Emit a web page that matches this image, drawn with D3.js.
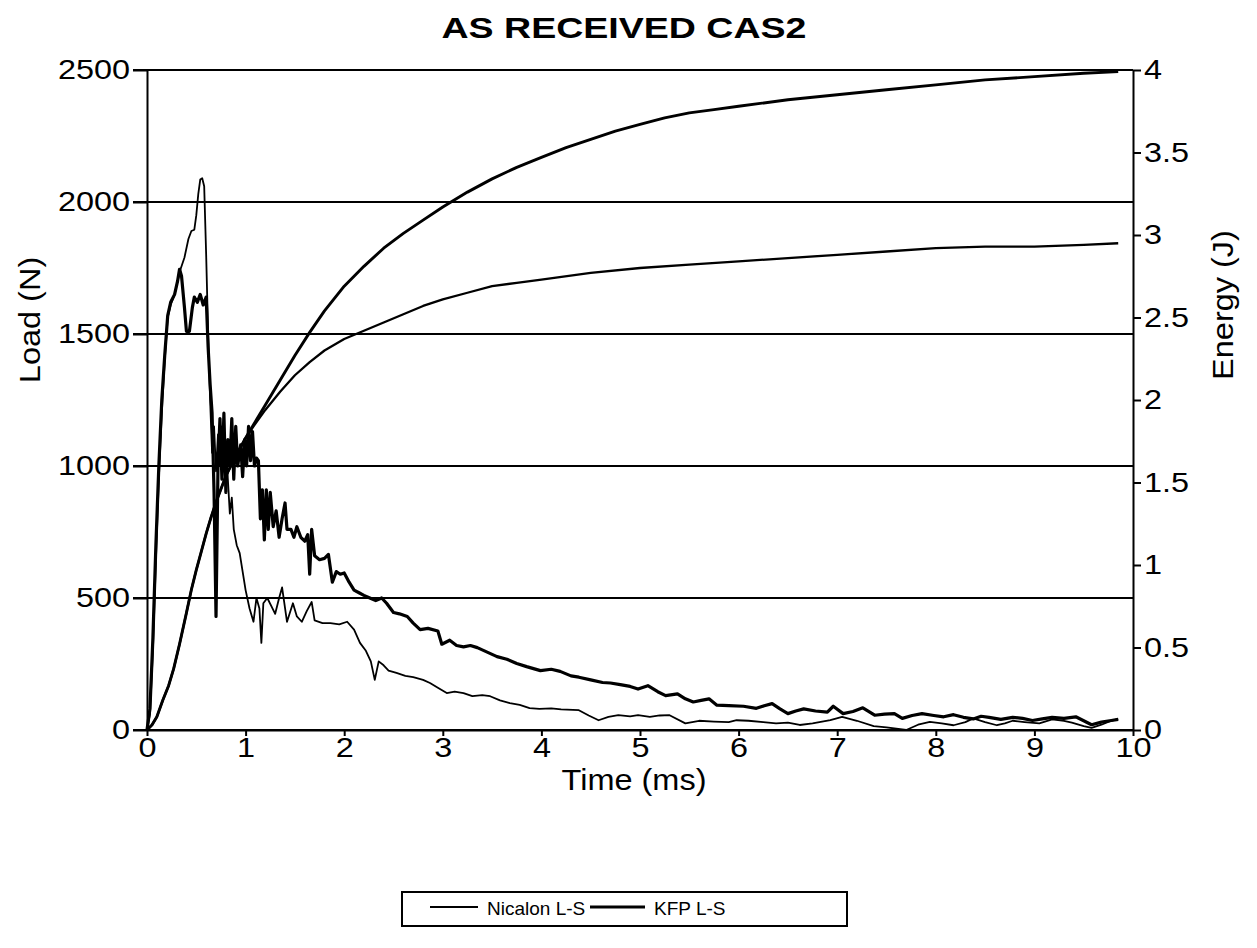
<!DOCTYPE html>
<html>
<head>
<meta charset="utf-8">
<script src="https://cdn.jsdelivr.net/npm/d3@7"></script>
<style>
  html, body { margin: 0; padding: 0; background: #fff; }
  svg { display: block; font-family: "Liberation Sans", Arial, sans-serif; }
  .axis path, .axis line { stroke: #000; stroke-width: 2; }
  .axis text { fill: #000; font-size: 27px; }
</style>
</head>
<body>
<div id="chart"></div>
<script>
// values: [time ms, value]
const loadTicks = [0, 500, 1000, 1500, 2000, 2500];
const energyTicks = [0, 0.5, 1, 1.5, 2, 2.5, 3, 3.5, 4];
const timeTicks = [0, 1, 2, 3, 4, 5, 6, 7, 8, 9, 10];
const seriesNames = ['Nicalon L-S', 'KFP L-S'];

const nicalonLoad = [[0,0],[0.03,60],[0.06,300],[0.09,640],[0.12,950],[0.15,1200],[0.18,1400],[0.21,1560],[0.24,1610],[0.28,1650],[0.31,1700],[0.34,1745],[0.38,1790],[0.42,1860],[0.45,1890],[0.48,1895],[0.50,1950],[0.52,2030],[0.54,2085],[0.56,2090],[0.58,2060],[0.60,1800],[0.62,1500],[0.64,1250],[0.66,1050],[0.68,1150],[0.70,980],[0.72,1120],[0.74,1000],[0.76,1150],[0.78,980],[0.80,1080],[0.82,950],[0.84,820],[0.86,880],[0.88,760],[0.91,700],[0.94,670],[0.97,600],[1.00,530],[1.04,460],[1.08,410],[1.11,500],[1.14,460],[1.16,330],[1.18,480],[1.22,500],[1.26,470],[1.30,440],[1.34,500],[1.37,540],[1.42,410],[1.48,480],[1.52,430],[1.57,410],[1.62,450],[1.67,485],[1.70,415],[1.78,405],[1.86,405],[1.95,400],[2.03,410],[2.10,380],[2.16,330],[2.22,300],[2.27,260],[2.31,190],[2.35,260],[2.40,245],[2.45,225],[2.53,216],[2.62,205],[2.70,200],[2.80,190],[2.87,178],[2.95,160],[3.04,140],[3.12,145],[3.21,140],[3.30,128],[3.40,132],[3.48,128],[3.58,112],[3.68,102],[3.78,95],[3.88,83],[3.98,80],[4.1,82],[4.2,78],[4.38,75],[4.48,55],[4.58,37],[4.68,50],[4.78,56],[4.9,52],[4.98,56],[5.1,50],[5.2,55],[5.3,56],[5.46,25],[5.6,35],[5.75,32],[5.9,30],[5.98,37],[6.1,35],[6.25,30],[6.38,25],[6.5,28],[6.62,19],[6.75,25],[6.93,37],[7.05,50],[7.2,35],[7.37,15],[7.5,10],[7.7,0],[7.82,20],[7.94,31],[8.06,25],[8.18,18],[8.3,30],[8.38,44],[8.5,30],[8.62,18],[8.7,25],[8.78,35],[8.9,30],[9.05,25],[9.18,40],[9.3,35],[9.38,28],[9.5,15],[9.58,8],[9.68,20],[9.78,35],[9.85,42]];

const kfpLoad = [[0,0],[0.03,80],[0.06,350],[0.09,700],[0.12,1000],[0.15,1250],[0.18,1420],[0.21,1570],[0.24,1620],[0.28,1650],[0.31,1700],[0.33,1745],[0.35,1720],[0.38,1600],[0.40,1510],[0.43,1510],[0.46,1600],[0.48,1640],[0.51,1620],[0.54,1650],[0.57,1610],[0.60,1640],[0.62,1450],[0.64,1310],[0.66,1200],[0.68,900],[0.70,430],[0.72,1000],[0.74,1180],[0.76,950],[0.78,1200],[0.80,900],[0.82,1100],[0.84,1000],[0.86,1180],[0.88,950],[0.90,1150],[0.92,1000],[0.95,1080],[0.97,960],[0.99,1100],[1.01,1000],[1.03,1150],[1.05,1020],[1.07,1130],[1.09,1000],[1.11,1030],[1.13,1020],[1.15,800],[1.17,910],[1.19,720],[1.21,910],[1.23,760],[1.25,900],[1.28,770],[1.31,830],[1.34,730],[1.37,800],[1.40,860],[1.42,760],[1.46,760],[1.49,730],[1.52,770],[1.56,730],[1.60,715],[1.63,740],[1.65,590],[1.67,760],[1.70,660],[1.75,645],[1.80,650],[1.84,665],[1.88,560],[1.92,600],[1.96,590],[2.00,595],[2.05,560],[2.10,530],[2.15,520],[2.20,510],[2.26,500],[2.32,490],[2.38,500],[2.43,480],[2.50,445],[2.56,440],[2.64,430],[2.70,405],[2.77,380],[2.85,385],[2.95,375],[2.99,325],[3.07,340],[3.14,320],[3.21,315],[3.28,320],[3.35,312],[3.45,295],[3.55,278],[3.65,268],[3.75,252],[3.85,240],[3.99,225],[4.1,230],[4.19,222],[4.3,205],[4.38,200],[4.5,190],[4.62,180],[4.7,178],[4.8,172],[4.9,165],[4.98,155],[5.08,168],[5.18,145],[5.26,130],[5.38,137],[5.46,118],[5.54,106],[5.62,112],[5.70,118],[5.78,94],[5.9,92],[6.05,90],[6.18,82],[6.26,92],[6.34,100],[6.42,80],[6.5,62],[6.58,72],[6.66,80],[6.78,72],[6.9,68],[6.96,90],[7.06,62],[7.16,70],[7.26,84],[7.38,56],[7.48,60],[7.58,62],[7.66,44],[7.76,55],[7.86,62],[7.98,55],[8.08,50],[8.18,58],[8.28,48],[8.38,42],[8.46,52],[8.54,48],[8.66,40],[8.78,48],[8.88,44],[8.98,36],[9.08,42],[9.18,48],[9.3,44],[9.42,50],[9.5,35],[9.58,20],[9.68,30],[9.78,36],[9.85,40]];

const nicalonEnergy = [[0,0],[0.05,0.03],[0.1,0.08],[0.16,0.18],[0.22,0.27],[0.27,0.37],[0.33,0.52],[0.4,0.71],[0.45,0.85],[0.5,0.97],[0.55,1.08],[0.6,1.19],[0.65,1.29],[0.7,1.38],[0.75,1.46],[0.8,1.54],[0.9,1.66],[1.0,1.77],[1.08,1.84],[1.2,1.94],[1.35,2.05],[1.5,2.15],[1.65,2.23],[1.8,2.30],[2.0,2.37],[2.2,2.42],[2.4,2.47],[2.6,2.52],[2.8,2.57],[3.0,2.61],[3.25,2.65],[3.5,2.69],[3.75,2.71],[4.0,2.73],[4.5,2.77],[5.0,2.80],[5.5,2.82],[6.0,2.84],[6.5,2.86],[7.0,2.88],[7.5,2.90],[8.0,2.92],[8.5,2.93],[9.0,2.93],[9.5,2.94],[9.85,2.95]];

const kfpEnergy = [[0,0],[0.05,0.03],[0.1,0.08],[0.16,0.18],[0.22,0.27],[0.27,0.37],[0.33,0.52],[0.4,0.71],[0.45,0.85],[0.5,0.97],[0.55,1.08],[0.6,1.19],[0.65,1.29],[0.7,1.38],[0.75,1.46],[0.8,1.54],[0.9,1.66],[1.0,1.77],[1.08,1.85],[1.2,1.97],[1.35,2.12],[1.5,2.27],[1.65,2.41],[1.8,2.54],[2.0,2.69],[2.2,2.81],[2.4,2.92],[2.6,3.01],[2.8,3.09],[3.0,3.17],[3.25,3.26],[3.5,3.34],[3.75,3.41],[4.0,3.47],[4.25,3.53],[4.5,3.58],[4.75,3.63],[5.0,3.67],[5.25,3.71],[5.5,3.74],[5.75,3.76],[6.0,3.78],[6.5,3.82],[7.0,3.85],[7.5,3.88],[8.0,3.91],[8.5,3.94],[9.0,3.96],[9.5,3.98],[9.85,3.99]];

(function () {
  const W = 1257, H = 948;
  const margin = { top: 70, right: 124, bottom: 218, left: 147 }; // plot box 147..1133 x 70..730
  const innerW = W - margin.left - margin.right;
  const innerH = H - margin.top - margin.bottom;

  const svg = d3.select('#chart').append('svg')
    .attr('width', W).attr('height', H)
    .attr('viewBox', `0 0 ${W} ${H}`);

  // scanned text is wider than Arial, stretch it a bit
  function widen(sel, k) {
    sel.each(function () {
      const w = this.getComputedTextLength();
      d3.select(this).attr('textLength', w * k).attr('lengthAdjust', 'spacingAndGlyphs');
    });
  }

  const g = svg.append('g').attr('transform', `translate(${margin.left},${margin.top})`);

  const x = d3.scaleLinear().domain([0, 10]).range([0, innerW]);
  const yL = d3.scaleLinear().domain([0, 2500]).range([innerH, 0]);
  const yE = d3.scaleLinear().domain([0, 4]).range([innerH, 0]);

  // horizontal grid at load ticks (sticks out left like the tick marks)
  g.append('g').selectAll('line').data(loadTicks).join('line')
    .attr('x1', -14).attr('x2', innerW)
    .attr('y1', d => yL(d)).attr('y2', d => yL(d))
    .attr('stroke', '#000').attr('stroke-width', 2.2);

  // axes
  const gl = g.append('g').attr('class', 'axis')
    .call(d3.axisLeft(yL).tickValues(loadTicks).tickSize(14).tickSizeOuter(0).tickPadding(3)
      .tickFormat(d => String(d)));
  const gr = g.append('g').attr('class', 'axis').attr('transform', `translate(${innerW},0)`)
    .call(d3.axisRight(yE).tickValues(energyTicks).tickSize(8).tickSizeOuter(0).tickPadding(3)
      .tickFormat(d => String(d)));
  const gb = g.append('g').attr('class', 'axis').attr('transform', `translate(0,${innerH})`)
    .call(d3.axisBottom(x).tickValues(timeTicks).tickSize(6).tickSizeOuter(0).tickPadding(2));
  gb.selectAll('.tick line').attr('stroke-width', 1.5);
  [gl, gr, gb].forEach(a => widen(a.selectAll('text'), 1.2));

  // lines
  const line = (ys) => d3.line().x(d => x(d[0])).y(d => ys(d[1]));
  const series = [
    { data: nicalonEnergy, y: yE, w: 2.3 },
    { data: kfpEnergy, y: yE, w: 2.9 },
    { data: nicalonLoad, y: yL, w: 1.8 },
    { data: kfpLoad, y: yL, w: 3.2 }
  ];
  g.append('g').selectAll('path').data(series).join('path')
    .attr('d', s => line(s.y)(s.data))
    .attr('fill', 'none').attr('stroke', '#000')
    .attr('stroke-width', s => s.w)
    .attr('stroke-linejoin', 'round');

  // titles
  svg.append('text')
    .attr('x', 624).attr('y', 38).attr('text-anchor', 'middle')
    .attr('font-size', 30).attr('font-weight', 'bold')
    .attr('textLength', 365).attr('lengthAdjust', 'spacingAndGlyphs')
    .text('AS RECEIVED CAS2');

  const tx = svg.append('text')
    .attr('x', margin.left + innerW / 2 - 6).attr('y', 790).attr('text-anchor', 'middle')
    .attr('font-size', 29).text('Time (ms)');
  const ly = svg.append('text')
    .attr('transform', `translate(40,${margin.top + innerH / 2 - 80}) rotate(-90)`)
    .attr('text-anchor', 'middle').attr('font-size', 29).text('Load (N)');
  const ry = svg.append('text')
    .attr('transform', `translate(1233,${margin.top + innerH / 2 - 95}) rotate(-90)`)
    .attr('text-anchor', 'middle').attr('font-size', 29).text('Energy (J)');
  widen(tx, 1.12); widen(ly, 1.12); widen(ry, 1.12);

  // legend
  const lg = svg.append('g').attr('transform', 'translate(402,892)');
  lg.append('rect').attr('width', 445).attr('height', 34)
    .attr('fill', '#fff').attr('stroke', '#000').attr('stroke-width', 2);
  const items = [
    { name: seriesNames[0], x0: 28, len: 48, w: 1.8 },
    { name: seriesNames[1], x0: 188, len: 55, w: 3.2 }
  ];
  const li = lg.selectAll('g.item').data(items).join('g').attr('class', 'item')
    .attr('transform', d => `translate(${d.x0},16)`);
  li.append('line').attr('x1', 0).attr('x2', d => d.len).attr('y1', -1).attr('y2', -1)
    .attr('stroke', '#000').attr('stroke-width', d => d.w);
  li.append('text').attr('x', d => d.len + 9).attr('y', 7).attr('font-size', 19)
    .text(d => d.name);
})();
</script>
</body>
</html>
